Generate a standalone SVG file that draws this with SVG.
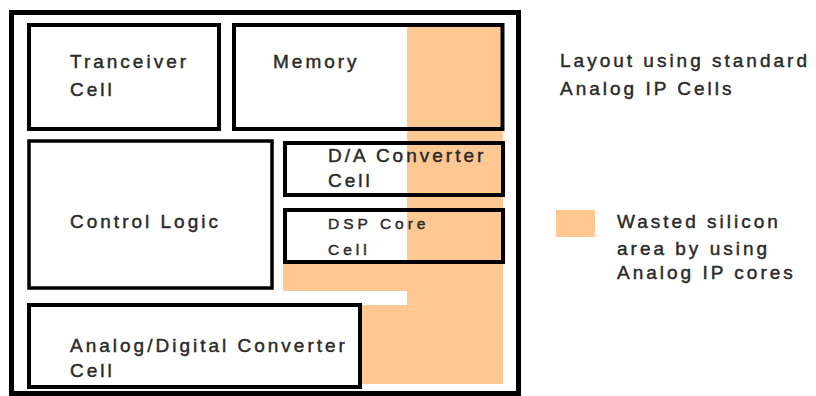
<svg xmlns="http://www.w3.org/2000/svg" width="816" height="396" viewBox="0 0 816 396">
<style>
.cell{fill:none;stroke:#000;stroke-width:4}
.t{font-family:"Liberation Sans",Arial,sans-serif;font-size:19px;letter-spacing:3px;fill:#2a2a2a;stroke:#2a2a2a;stroke-width:0.45}
.s{font-size:15.5px;letter-spacing:4px}
.waste{fill:#FFC892}
</style>
<rect width="816" height="396" fill="#fff"/>
<g id="wasted-area">
<path class="waste" d="M407,27 H503 V384 H361 V305 H407 V291 H283 V262 H407 Z"/>
</g>
<g id="chip">
<rect x="11.5" y="12.5" width="507" height="381" fill="none" stroke="#000" stroke-width="5"/>
</g>
<g id="tranceiver">
<rect class="cell" x="29" y="25" width="190" height="104"/>
<text class="t" x="70" y="68">Tranceiver</text>
<text class="t" x="70" y="96">Cell</text>
</g>
<g id="memory">
<rect class="cell" x="234" y="25" width="268.5" height="104"/>
<text class="t" x="273" y="68">Memory</text>
</g>
<g id="control-logic">
<rect class="cell" x="29" y="141" width="243" height="147" style="stroke-width:3.5"/>
<text class="t" x="70" y="228">Control Logic</text>
</g>
<g id="da-converter">
<rect class="cell" x="285" y="143" width="218" height="52"/>
<text class="t" x="328" y="162">D/A Converter</text>
<text class="t" x="328" y="187">Cell</text>
</g>
<g id="dsp-core">
<rect class="cell" x="285" y="210" width="218" height="52"/>
<text class="t s" x="328" y="229">DSP Core</text>
<text class="t s" x="328" y="255">Cell</text>
</g>
<g id="ad-converter">
<rect class="cell" x="29" y="305" width="331" height="82"/>
<text class="t" x="70" y="352">Analog/Digital Converter</text>
<text class="t" x="70" y="377">Cell</text>
</g>
<g id="caption">
<text class="t" x="560" y="67">Layout using standard</text>
<text class="t" x="560" y="95">Analog IP Cells</text>
</g>
<g id="legend">
<rect class="waste" x="556" y="210" width="39" height="27"/>
<text class="t" x="617" y="228">Wasted silicon</text>
<text class="t" x="617" y="255">area by using</text>
<text class="t" x="617" y="279">Analog IP cores</text>
</g>
</svg>
